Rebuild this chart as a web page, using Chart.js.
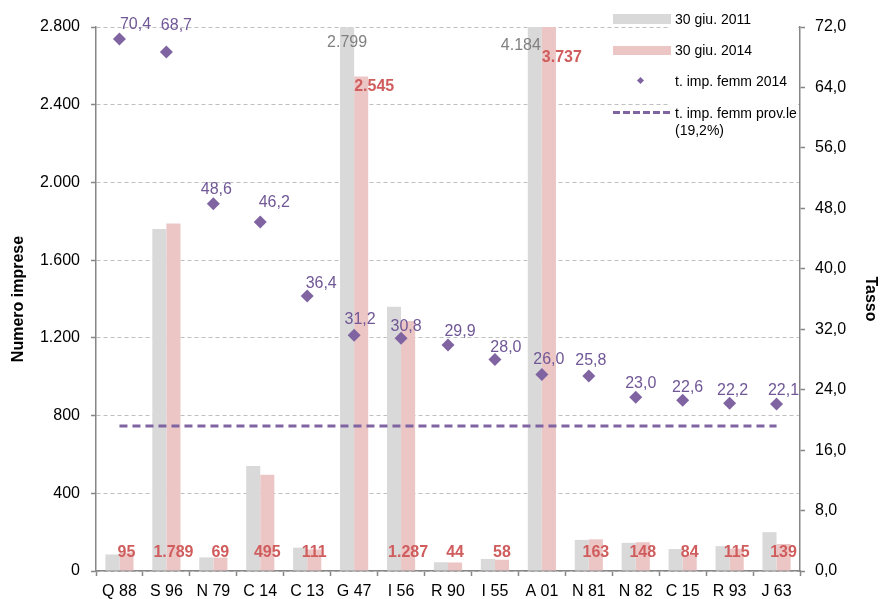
<!DOCTYPE html>
<html>
<head>
<meta charset="utf-8">
<script src="https://cdn.jsdelivr.net/npm/chart.js@4.4.1/dist/chart.umd.min.js"></script>
<style>
  body { margin: 0; background: #fff; }
  #wrap { position: relative; width: 880px; height: 599px; }
  #grafico { position: absolute; left: 0; top: 0; }
  #legenda { position: absolute; left: 0; top: 0; }
  #legenda .fondo { position: absolute; left: 668px; top: 8px; width: 130px; height: 132px; background: #fff; }
  #legenda .sw { position: absolute; left: 613px; width: 58px; }
  #legenda .txt { position: absolute; left: 675px; font: 14px Arial, "Liberation Sans", sans-serif; line-height: 17px; color: #000; white-space: nowrap; }
  #legenda .rombo { position: absolute; left: 638px; top: 78px; width: 5px; height: 5px; background: #8064a2; transform: rotate(45deg); }
  #legenda .tratteggio { position: absolute; left: 613px; top: 111px; width: 58px; height: 3px;
    background: repeating-linear-gradient(to right, #8064a2 0 7px, transparent 7px 10px); }
</style>
</head>
<body>
<div id="wrap">
  <canvas id="grafico" width="880" height="599"></canvas>
  <div id="legenda">
    <div class="fondo"></div>
    <div class="sw" style="top:14px;height:10px;background:#d9d9d9"></div>
    <div class="txt" style="top:11px">30 giu. 2011</div>
    <div class="sw" style="top:46px;height:9px;background:#ecc5c5"></div>
    <div class="txt" style="top:42px">30 giu. 2014</div>
    <div class="rombo"></div>
    <div class="txt" style="top:73px">t. imp. femm 2014</div>
    <div class="tratteggio"></div>
    <div class="txt" style="top:105px">t. imp. femm prov.le<br>(19,2%)</div>
  </div>
</div>
<script>
// dati
const categorie = ["Q 88", "S 96", "N 79", "C 14", "C 13", "G 47", "I 56", "R 90", "I 55", "A 01", "N 81", "N 82", "C 15", "R 93", "J 63"];
const imprese2011 = [85, 1760, 70, 540, 120, 2799, 1360, 45, 62, 4184, 160, 145, 113, 128, 200];
const imprese2014 = [95, 1789, 69, 495, 111, 2545, 1287, 44, 58, 3737, 163, 148, 84, 115, 139];
const tassoFemm2014 = [70.4, 68.7, 48.6, 46.2, 36.4, 31.2, 30.8, 29.9, 28.0, 26.0, 25.8, 23.0, 22.6, 22.2, 22.1];
const tassoProvinciale = 19.2;
const maxImprese = 2800, passoImprese = 400;
const maxTasso = 72, passoTasso = 8;

const viola = "#8064a2";
const grigioAsse = "#868686";

const migliaia = (n) => String(Math.round(n)).replace(/\B(?=(\d{3})+(?!\d))/g, ".");
const decimale = (n) => n.toFixed(1).replace(".", ",");

Chart.defaults.font.family = 'Arial, "Liberation Sans", sans-serif';
Chart.defaults.font.size = 16;
Chart.defaults.color = "#000";

// spostamenti delle etichette del tasso, come nel grafico originale
const spostaTasso = [[16, -14], [10, -26], [3, -14], [14, -19], [14, -12], [6, -16], [5, -12], [12, -13],
  [11, -12], [7, -15], [2, -15], [5, -14], [5, -13], [3, -13], [7, -13]];

const etichette = {
  id: "etichette",
  afterDatasetsDraw(chart) {
    const { ctx, chartArea } = chart;
    ctx.save();
    ctx.textBaseline = "middle";

    // 2011: solo sulle barre alte
    ctx.font = '16px Arial, "Liberation Sans", sans-serif';
    ctx.fillStyle = "#808080";
    ctx.textAlign = "center";
    chart.getDatasetMeta(0).data.forEach((bar, i) => {
      if (bar.y > chartArea.top + 100) return;
      const dx = i === 9 ? -14 : 0;
      const dy = i === 9 ? 19 : 16;
      ctx.fillText(migliaia(imprese2011[i]), bar.x + dx, chartArea.top + dy);
    });

    // 2014
    ctx.font = 'bold 16px Arial, "Liberation Sans", sans-serif';
    ctx.fillStyle = "#d05d5d";
    chart.getDatasetMeta(1).data.forEach((bar, i) => {
      if (bar.y < chartArea.top + 100) {
        ctx.textAlign = "left";
        ctx.fillText(migliaia(imprese2014[i]), bar.x - bar.width / 2, Math.max(bar.y, chartArea.top + 21) + 10);
      } else {
        ctx.textAlign = "center";
        ctx.fillText(migliaia(imprese2014[i]), bar.x, chartArea.bottom - 18);
      }
    });

    // tasso
    ctx.font = '16px Arial, "Liberation Sans", sans-serif';
    ctx.fillStyle = "#705796";
    ctx.textAlign = "center";
    chart.getDatasetMeta(2).data.forEach((pt, i) => {
      const [dx, dy] = spostaTasso[i];
      ctx.fillText(decimale(tassoFemm2014[i]), pt.x + dx, pt.y + dy);
    });
    ctx.restore();
  }
};

const ctx = document.getElementById("grafico").getContext("2d");
new Chart(ctx, {
  data: {
    labels: categorie,
    datasets: [
      {
        type: "bar", label: "30 giu. 2011", data: imprese2011, yAxisID: "y",
        backgroundColor: "#d9d9d9", categoryPercentage: 0.6, barPercentage: 1, order: 2
      },
      {
        type: "bar", label: "30 giu. 2014", data: imprese2014, yAxisID: "y",
        backgroundColor: "#ecc5c5", categoryPercentage: 0.6, barPercentage: 1, order: 3
      },
      {
        type: "line", label: "t. imp. femm 2014", data: tassoFemm2014, yAxisID: "y1",
        showLine: false, pointStyle: "rectRot", pointRadius: 6.5, pointHoverRadius: 6.5,
        pointBackgroundColor: viola, pointBorderColor: viola, pointBorderWidth: 0, order: 0
      },
      {
        type: "line", label: "t. imp. femm prov.le (19,2%)", data: categorie.map(() => tassoProvinciale),
        yAxisID: "y1", borderColor: viola, borderWidth: 3, borderDash: [8, 5], pointRadius: 0, order: 1
      }
    ]
  },
  options: {
    responsive: false,
    animation: false,
    layout: { padding: { top: 27, left: 0, right: 0, bottom: 0 } },
    plugins: { legend: { display: false }, tooltip: { enabled: false } },
    scales: {
      x: {
        grid: { offset: true, drawOnChartArea: false, tickLength: 5, tickColor: grigioAsse, tickWidth: 1.5 },
        border: { color: grigioAsse, width: 1.5 },
        ticks: { padding: 6, maxRotation: 0, autoSkip: false },
        afterFit: (s) => { s.height = 28; }
      },
      y: {
        position: "left", min: 0, max: maxImprese,
        ticks: { stepSize: passoImprese, padding: 11, callback: (v) => migliaia(v) },
        grid: { color: "#bfbfbf", tickColor: grigioAsse, tickLength: 5, tickWidth: 1.5 },
        border: { color: grigioAsse, width: 1.5, dash: [4, 3] },
        title: { display: true, text: "Numero imprese", font: { size: 16, weight: "bold" }, padding: { top: 9 } },
        afterFit: (s) => { s.width = 96; }
      },
      y1: {
        position: "right", min: 0, max: maxTasso,
        ticks: { stepSize: passoTasso, padding: 10, callback: (v) => decimale(v) },
        grid: { drawOnChartArea: false, tickColor: grigioAsse, tickLength: 5, tickWidth: 1.5 },
        border: { color: grigioAsse, width: 1.5 },
        title: { display: true, text: "Tasso", font: { size: 16, weight: "bold" }, padding: { top: 0 } },
        afterFit: (s) => { s.width = 80; }
      }
    }
  },
  plugins: [etichette]
});
</script>
</body>
</html>
